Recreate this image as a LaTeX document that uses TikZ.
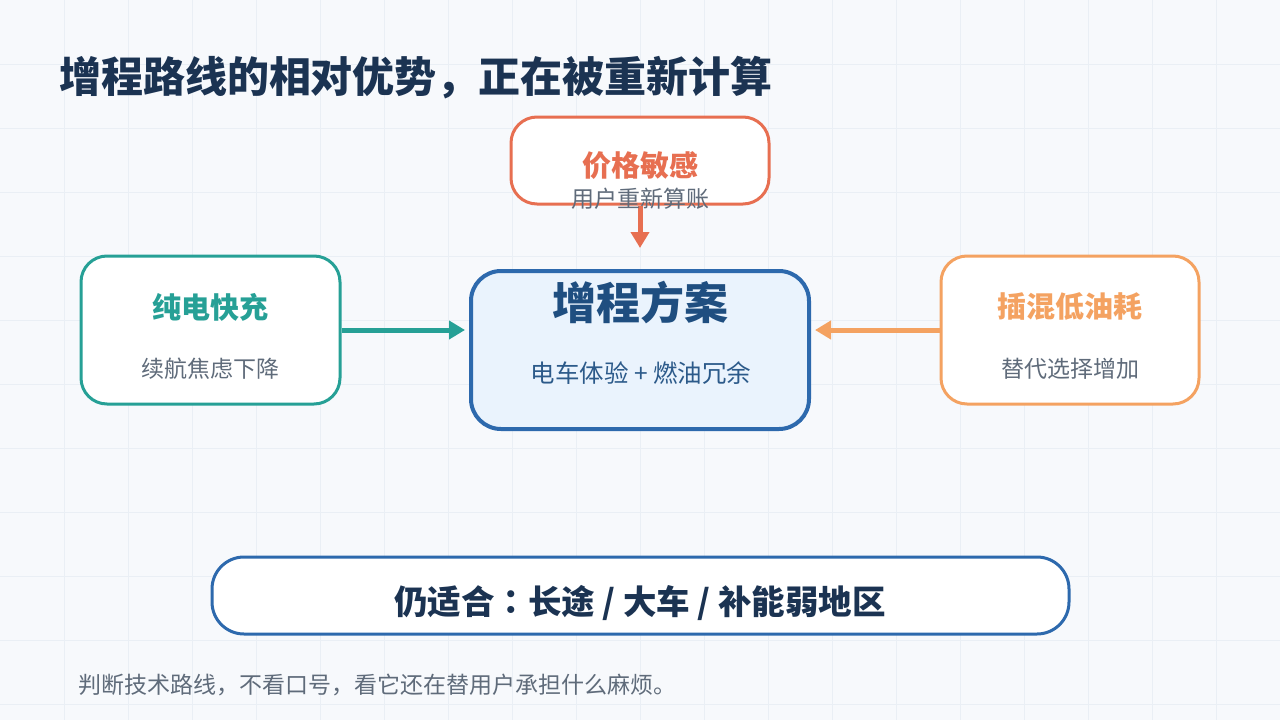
\documentclass[tikz,border=0pt]{standalone}
\usepackage{fontspec}
\setmainfont{Noto Sans CJK SC}
\newfontfamily\tcfont{Noto Sans CJK TC}
\usetikzlibrary{arrows.meta}
\definecolor{bgc}{HTML}{F7F9FC}
\definecolor{gridc}{HTML}{EAEFF5}
\definecolor{navy}{HTML}{1B3352}
\definecolor{tealc}{HTML}{26A096}
\definecolor{orangec}{HTML}{F4A261}
\definecolor{redc}{HTML}{E76F51}
\definecolor{bluec}{HTML}{2D69AD}
\definecolor{cfill}{HTML}{EAF3FD}
\definecolor{ctitle}{HTML}{1F4E80}
\definecolor{csub}{HTML}{2C5A8A}
\definecolor{grayc}{HTML}{5F6B7A}
\tikzset{
  box/.style={draw, line width=3pt, fill=white, rounded corners=26pt, inner sep=0pt},
  arr/.style={line width=5pt, -{Triangle[length=16pt,width=18pt]}},
  txt/.style={inner sep=0pt, outer sep=0pt},
  ttl/.style={txt, font=\fontsize{29}{34}\selectfont\bfseries},
  sub/.style={txt, font=\fontsize{23}{28}\selectfont, text=grayc},
}
\begin{document}
\begin{tikzpicture}[x=1pt,y=-1pt]
\fill[bgc] (0,0) rectangle (1280,720);
\useasboundingbox (0,0) rectangle (1280,720);
\foreach \i in {64,128,...,1216} \draw[gridc, line width=1pt] (\i,0) -- (\i,720);
\foreach \j in {64,128,...,704} \draw[gridc, line width=1pt] (0,\j) -- (1280,\j);

% boxes
\node[box, draw=redc, minimum width=258pt, minimum height=87pt] (T) at (640,160.5) {};
\node[box, draw=tealc, minimum width=259pt, minimum height=148pt] (L) at (210.5,330) {};
\node[box, draw=bluec, fill=cfill, line width=4pt, rounded corners=30pt, minimum width=338pt, minimum height=158pt] (C) at (640,350) {};
\node[box, draw=orangec, minimum width=258pt, minimum height=148pt] (R) at (1070,330) {};
\node[box, draw=bluec, rounded corners=32pt, minimum width=857pt, minimum height=77pt] (B) at (640.5,595.5) {};

% arrows
\draw[arr, redc, shorten >=21pt] (T.south) -- (C.north);
\draw[arr, tealc, shorten >=4pt] (L.east) -- (L.east -| C.west);
\draw[arr, orangec, shorten >=4pt] (R.west) -- (R.west -| C.east);

% texts
\node[txt, anchor=west, text=navy, font=\fontsize{42}{50}\selectfont\bfseries] (title) at (59,78) {增程路线的相对优势，正在被重新计算};

\node[ttl, text=redc] (Tt) at (640,166) {价格敏感};
\node[sub] (Ts) at (640,198.5) {用户重新算账};

\node[ttl, text=tealc] (Lt) at (210.5,307) {纯电快充};
\node[sub] (Ls) at (210.5,368.5) {续航焦虑下降};

\node[txt, text=ctitle, font=\fontsize{44}{52}\selectfont\bfseries] (Ct) at (640,303) {增程方案};
\node[txt, text=csub, font=\fontsize{24.5}{29}\selectfont] (Cs) at (641,373) {电车体验 + 燃油冗余};

\node[ttl, text=orangec] (Rt) at (1070,307) {插混低油耗};
\node[sub] (Rs) at (1070,368.5) {替代选择增加};

\node[txt, text=navy, font=\fontsize{33.5}{40}\selectfont\bfseries] (Bt) at (640,603) {仍适合{\tcfont\bfseries ：}长途 / 大车 / 补能弱地区};

\node[txt, anchor=west, text=grayc, font=\fontsize{23}{28}\selectfont] (foot) at (78,685) {判断技术路线，不看口号，看它还在替用户承担什么麻烦。};
\end{tikzpicture}
\end{document}
